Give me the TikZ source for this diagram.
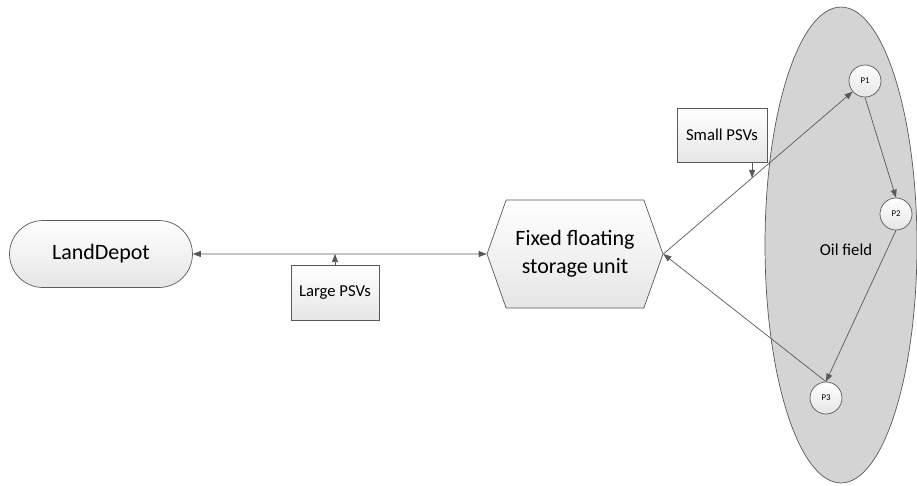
\documentclass[tikz,border=0pt]{standalone}
\usepackage{fontspec}
\setmainfont{Carlito}
\usetikzlibrary{arrows.meta, shapes.misc, shapes.symbols, shapes.geometric, calc}
\definecolor{LineGray}{HTML}{595959}
\definecolor{FieldGray}{HTML}{D4D4D4}
\tikzset{
	MyPx/.style={x={(0.02cm,0cm)},y={(0cm,-0.02cm)}},
	MyFill/.style={draw=LineGray,top color=white,bottom color=black!10},
	MyBox/.style={MyFill,rectangle,inner sep=0pt,font=\fontsize{9.5}{11}\selectfont},
	MyPort/.style={MyFill,circle,minimum size=0.64cm,inner sep=0pt,font=\fontsize{5}{6}\selectfont},
	MyLink/.style={draw=LineGray,thin,-{Triangle[length=1.6mm,width=1.2mm]}}
		}

\begin{document}
\begin{tikzpicture}[MyPx]
  \useasboundingbox (0,0) rectangle (917,485);

  % oil field and its platforms
  \node[ellipse,draw=LineGray,fill=FieldGray,minimum width=3.04cm,minimum height=9.52cm,
    inner sep=0pt,font=\fontsize{9.5}{11}\selectfont] (field) at (841,245) {};
  \node[font=\fontsize{9.5}{11}\selectfont] (oil) at (846,250) {Oil field};
  \node[MyPort] (p1) at (865,81) {P1};
  \node[MyPort] (p2) at (896,214) {P2};
  \node[MyPort] (p3) at (826,398) {P3};

  \node[MyBox,shape=rounded rectangle,minimum width=3.66cm,minimum height=1.34cm,
    font=\fontsize{12.5}{15}\selectfont] (depot) at (101,254) {LandDepot};
  \node[MyFill,shape=signal,signal to=east and west,signal pointer angle=141,
    minimum width=3.52cm,minimum height=2.16cm,inner sep=0pt,align=center,
    font=\fontsize{12.5}{16}\selectfont] (fsu) at (575,254) {Fixed floating\\storage unit};

  \node[MyBox,minimum width=1.76cm,minimum height=1.1cm] (large) at (335,293) {Large PSVs};
  \node[MyBox,minimum width=1.8cm,minimum height=1.08cm] (small) at (722,135) {Small PSVs};

  \draw[MyLink,{Triangle[length=1.6mm,width=1.2mm]}-{Triangle[length=1.6mm,width=1.2mm]}]
    (depot) -- (fsu);
  \draw[MyLink] (large.north) -- (large.north |- depot.east);

  \coordinate (sp) at ($(fsu.east)!0.44!(p1)$);
  \draw[MyLink] (fsu.east) -- (p1);
  \draw[MyLink] (small.south -| sp) -- (sp);
  \draw[MyLink] (p1.south) -- (p2.north);
  \draw[MyLink] (p2.south) -- (p3.north);
  \draw[MyLink] (p3.north) -- (fsu.east);
\end{tikzpicture}
\end{document}
